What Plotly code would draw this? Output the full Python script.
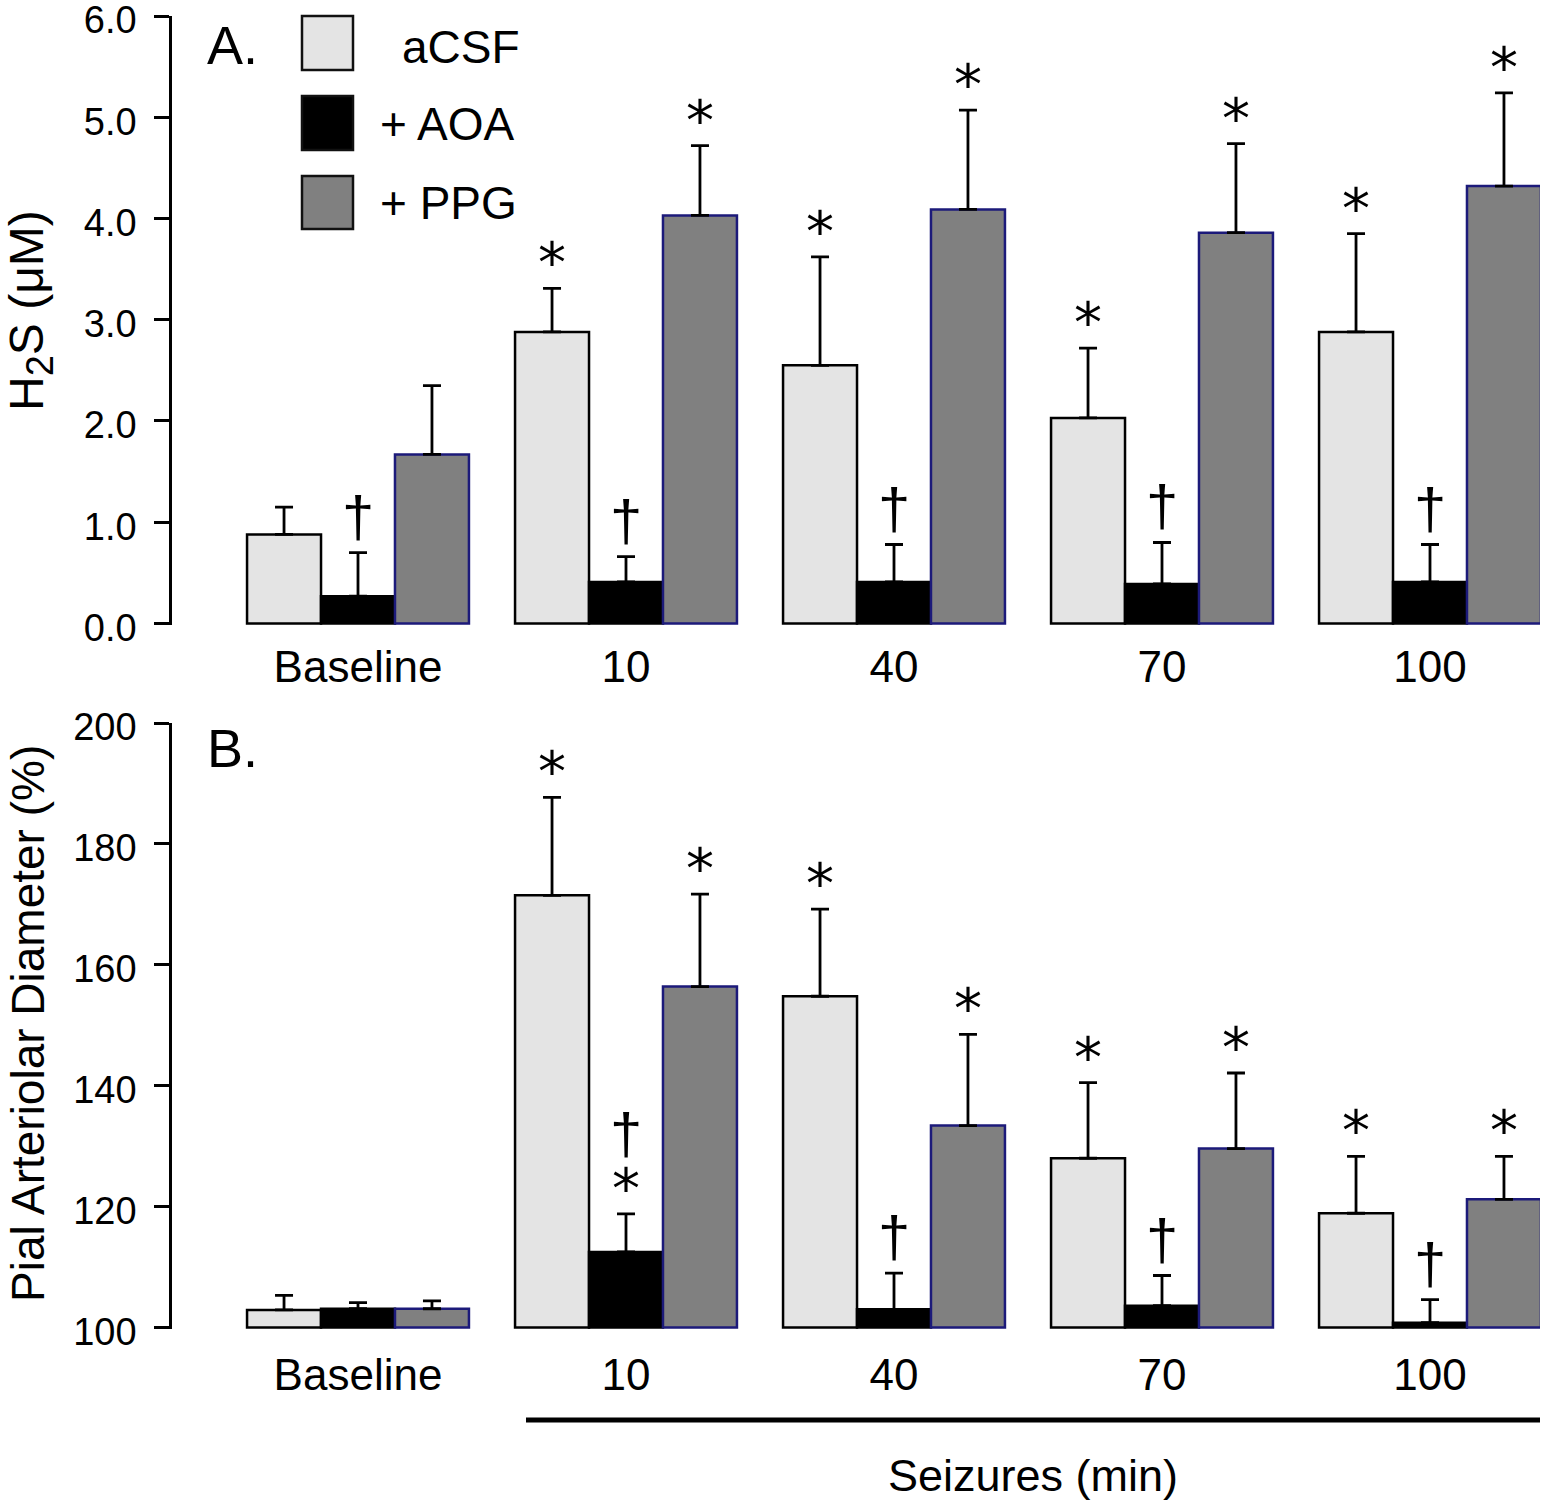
import plotly.graph_objects as go

# ---------------- data ----------------
categories = ["Baseline", "10", "40", "70", "100"]
series_names = ["aCSF", "+ AOA", "+ PPG"]

# Panel A: H2S (uM)
a_acsf = [0.88, 2.88, 2.55, 2.03, 2.88]
a_acsf_err = [0.27, 0.43, 1.07, 0.69, 0.97]
a_aoa = [0.27, 0.41, 0.41, 0.39, 0.41]
a_aoa_err = [0.43, 0.25, 0.37, 0.41, 0.37]
a_ppg = [1.67, 4.03, 4.09, 3.86, 4.32]
a_ppg_err = [0.68, 0.69, 0.98, 0.88, 0.92]

# Panel B: pial arteriolar diameter (%)
b_acsf = [102.9, 171.5, 154.8, 128.0, 118.9]
b_acsf_err = [2.4, 16.2, 14.4, 12.5, 9.4]
b_aoa = [103.1, 112.5, 103.0, 103.6, 100.8]
b_aoa_err = [1.0, 6.3, 6.0, 5.0, 3.8]
b_ppg = [103.1, 156.4, 133.4, 129.6, 121.2]
b_ppg_err = [1.3, 15.3, 15.1, 12.5, 7.1]

# significance marks, listed bottom -> top for each bar
a_acsf_sig = ["", "*", "*", "*", "*"]
a_aoa_sig = ["†", "†", "†", "†", "†"]
a_ppg_sig = ["", "*", "*", "*", "*"]
b_acsf_sig = ["", "*", "*", "*", "*"]
b_aoa_sig = ["", "*†", "†", "†", "†"]
b_ppg_sig = ["", "*", "*", "*", "*"]

# ---------------- styling / layout ----------------
W, H = 1550, 1507
ML, MR, MT, MB = 172, 10, 16, 178
PW, PH = W - ML - MR, H - MT - MB
FONT = "Liberation Sans, Arial, sans-serif"
FILLS = ["#e4e4e4", "#000000", "#808080"]
EDGES = ["#000000", "#000000", "#1c1a7a"]
BAR_PX = 74  # pixel width of one bar (for mark offsets)


def px_x(px):
    return (px - ML) / PW


def px_y(py):
    return (H - MB - py) / PH


fig = go.Figure()

panels = [
    ("x", "y", [a_acsf, a_aoa, a_ppg], [a_acsf_err, a_aoa_err, a_ppg_err], 0.0),
    ("x2", "y2", [b_acsf, b_aoa, b_ppg], [b_acsf_err, b_aoa_err, b_ppg_err], 100.0),
]
for xa, ya, vals, errs, base in panels:
    for k in range(3):
        fig.add_trace(go.Bar(
            x=categories,
            y=[v - base for v in vals[k]],
            base=base,
            name=series_names[k],
            marker=dict(color=FILLS[k], line=dict(color=EDGES[k], width=2.5)),
            error_y=dict(type="data", symmetric=False, array=errs[k],
                         arrayminus=[0] * len(errs[k]), color="black",
                         thickness=2.8, width=9),
            xaxis=xa, yaxis=ya, showlegend=False,
        ))

# significance annotations
annotations = []
sig_sets = [
    ("x", "y", [a_acsf, a_aoa, a_ppg], [a_acsf_err, a_aoa_err, a_ppg_err],
     [a_acsf_sig, a_aoa_sig, a_ppg_sig]),
    ("x2", "y2", [b_acsf, b_aoa, b_ppg], [b_acsf_err, b_aoa_err, b_ppg_err],
     [b_acsf_sig, b_aoa_sig, b_ppg_sig]),
]
for xa, ya, vals, errs, sigs in sig_sets:
    for k in range(3):
        for i in range(len(categories)):
            top = vals[k][i] + errs[k][i]
            shift = 0
            for ch in sigs[k][i]:
                if ch == "*":
                    annotations.append(dict(
                        x=i, y=top, xref=xa, yref=ya, text="*", showarrow=False,
                        xshift=(k - 1) * BAR_PX, yshift=shift - 9, yanchor="bottom",
                        font=dict(family="DejaVu Sans", size=56, color="black")))
                    shift += 44
                else:
                    annotations.append(dict(
                        x=i, y=top, xref=xa, yref=ya, text="†", showarrow=False,
                        xshift=(k - 1) * BAR_PX, yshift=shift + 2, yanchor="bottom",
                        font=dict(family=FONT, size=58, color="black")))
                    shift += 60

# panel letters
annotations.append(dict(x=px_x(205), y=px_y(45), xref="paper", yref="paper", text="A.",
                        showarrow=False, xanchor="left", yanchor="middle",
                        font=dict(family=FONT, size=54, color="black")))
annotations.append(dict(x=px_x(205), y=px_y(748), xref="paper", yref="paper", text="B.",
                        showarrow=False, xanchor="left", yanchor="middle",
                        font=dict(family=FONT, size=54, color="black")))

# y axis titles
annotations.append(dict(x=px_x(30), y=px_y(311), xref="paper", yref="paper",
                        text="H<sub><span style='font-size:38px'>2</span></sub>S (μM)",
                        textangle=-90, showarrow=False,
                        xanchor="center", yanchor="middle",
                        font=dict(family=FONT, size=48, color="black")))
annotations.append(dict(x=px_x(28), y=px_y(1024), xref="paper", yref="paper",
                        text="Pial Arteriolar Diameter (%)", textangle=-90, showarrow=False,
                        xanchor="center", yanchor="middle",
                        font=dict(family=FONT, size=46, color="black")))

# x title
annotations.append(dict(x=px_x(1033), y=px_y(1475), xref="paper", yref="paper",
                        text="Seizures (min)", showarrow=False,
                        xanchor="center", yanchor="middle",
                        font=dict(family=FONT, size=45, color="black")))

# legend (drawn manually)
shapes = []
legend_rows = [(16, 70, 47), (96, 150, 124), (176, 229, 203)]
legend_text_x = [400, 378, 378]
for k, (y0, y1, yc) in enumerate(legend_rows):
    shapes.append(dict(type="rect", xref="paper", yref="paper",
                       x0=px_x(302), x1=px_x(353), y0=px_y(y1), y1=px_y(y0),
                       fillcolor=FILLS[k], line=dict(color="#111111", width=2.5)))
    annotations.append(dict(x=px_x(legend_text_x[k]), y=px_y(yc), xref="paper", yref="paper",
                            text=series_names[k], showarrow=False, xanchor="left",
                            yanchor="middle",
                            font=dict(family=FONT, size=46, color="black")))

# seizure bar line
shapes.append(dict(type="line", xref="paper", yref="paper",
                   x0=px_x(526), x1=px_x(1540), y0=px_y(1420), y1=px_y(1420),
                   line=dict(color="black", width=5)))

xrange = [(ML - 358) / 268, (ML + PW - 358) / 268]
common_x = dict(type="category", range=xrange, showline=False, ticks="",
                showgrid=False, zeroline=False, automargin=False,
                tickfont=dict(family=FONT, size=44, color="black"))
common_y = dict(showline=True, linecolor="black", linewidth=2.5, ticks="outside",
                ticklen=15, tickwidth=2.5, tickcolor="black", showgrid=False,
                zeroline=False, automargin=False, ticklabeloverflow="allow",
                ticklabelstandoff=10, ticklabelshift=4,
                tickfont=dict(family=FONT, size=38, color="black"))

fig.update_layout(
    width=W, height=H,
    margin=dict(l=ML, r=MR, t=MT, b=MB, autoexpand=False),
    paper_bgcolor="white", plot_bgcolor="white",
    barmode="group", bargap=0.172, bargroupgap=0,
    showlegend=False,
    xaxis=dict(domain=[0, 1], anchor="y", ticklabelstandoff=12, **common_x),
    yaxis=dict(domain=[px_y(625), 1], anchor="x", range=[-0.015, 6.0],
               tickvals=[0, 1, 2, 3, 4, 5, 6], tickformat=".1f", **common_y),
    xaxis2=dict(domain=[0, 1], anchor="y2", ticklabelstandoff=16, **common_x),
    yaxis2=dict(domain=[0, px_y(723)], anchor="x2", range=[99.75, 200],
                tickvals=[100, 120, 140, 160, 180, 200], **common_y),
    annotations=annotations,
    shapes=shapes,
)

fig.write_html("out.html", config={"displayModeBar": False},
               post_script="document.body.style.margin='0';document.body.style.overflow='hidden';")
